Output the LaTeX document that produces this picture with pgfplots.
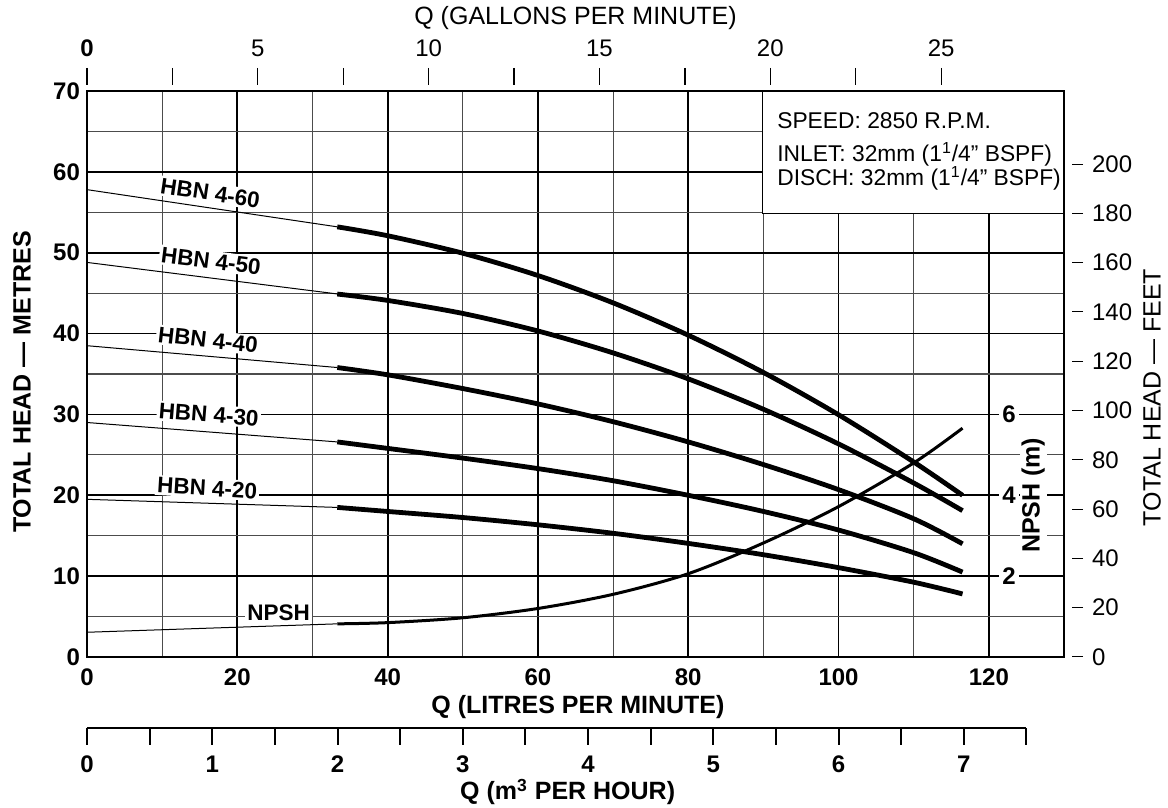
\documentclass[border=0pt]{standalone}
\usepackage{fontspec}
\setmainfont{Liberation Sans}
\setsansfont{Liberation Sans}
\usepackage{pgfplots}
\pgfplotsset{compat=1.18}

\newcommand\fA{\fontsize{11.25}{13}\selectfont}
\newcommand\fB{\fontsize{12}{14}\selectfont}
\newcommand\fC{\fontsize{11.4}{13}\selectfont}
\newcommand\fT{\fontsize{12.5}{14}\selectfont}

\pgfplotsset{
  thinseg/.style={black, line width=0.5pt, no marks},
  pump/.style={black, line width=2.4pt, no marks, smooth},
}
\tikzset{
  lbl/.style={font=\fA\bfseries, fill=white, inner sep=1pt},
  npsh/.style={font=\fB\bfseries, fill=white, inner sep=1.5pt},
}

\begin{document}
\begin{tikzpicture}
\useasboundingbox (-43.5pt,-75.5pt) rectangle (540.5pt,328.5pt);

% main chart: head in metres against litres per minute
\begin{axis}[
  at={(0,0)}, anchor=south west, scale only axis,
  width=488.5pt, height=283pt,
  xmin=0, xmax=130, ymin=0, ymax=70,
  xtick={0,20,...,120}, minor xtick={10,30,...,130},
  ytick={0,10,...,70}, minor ytick={5,15,...,65},
  major tick length=0pt, minor tick length=0pt,
  grid=both,
  major grid style={black, line width=0.9pt},
  minor grid style={black!70, line width=0.55pt},
  axis line style={black, line width=1.4pt},
  tick label style={font=\fB\bfseries},
  /pgf/number format/assume math mode=true,
  xticklabel style={yshift=-2.5pt},
  clip=false,
]
% thin extrapolated parts
\addplot[thinseg] coordinates {(0,57.8) (33.3,53.2)};
\addplot[thinseg] coordinates {(0,48.8) (33.3,44.9)};
\addplot[thinseg] coordinates {(0,38.5) (33.3,35.8)};
\addplot[thinseg] coordinates {(0,29.0) (33.3,26.6)};
\addplot[thinseg] coordinates {(0,19.5) (33.3,18.5)};
\addplot[thinseg] coordinates {(0,3.06) (33.3,4.1)};

% HBN 4-60
\addplot[pump] coordinates {
  (33.3,53.20) (40,52.10) (50,49.94) (60,47.18) (70,43.80) (80,39.80)
  (90,35.19) (100,29.96) (110,24.12) (116.5,20.00)};
% HBN 4-50
\addplot[pump] coordinates {
  (33.3,44.89) (40,44.10) (50,42.49) (60,40.32) (70,37.61) (80,34.40)
  (90,30.64) (100,26.35) (110,21.52) (116.5,18.10)};
% HBN 4-40
\addplot[pump] coordinates {
  (33.3,35.8) (40,34.9) (50,33.2) (60,31.3) (70,29.1) (80,26.6)
  (90,23.8) (100,20.7) (110,17.1) (116.5,14.0)};
% HBN 4-30
\addplot[pump] coordinates {
  (33.3,26.6) (40,25.8) (50,24.6) (60,23.3) (70,21.8) (80,20.0)
  (90,18.0) (100,15.7) (110,12.9) (116.5,10.5)};
% HBN 4-20
\addplot[pump] coordinates {
  (33.3,18.5) (40,18.0) (50,17.25) (60,16.35) (70,15.3) (80,14.05)
  (90,12.65) (100,11.05) (110,9.25) (116.5,7.8)};
% NPSH
\addplot[black, line width=1.5pt, no marks, smooth] coordinates {
  (33.3,4.1) (40,4.25) (50,4.85) (60,6.0) (70,7.75) (80,10.3)
  (90,14.1) (100,18.6) (110,24.0) (116.5,28.3)};

% curve names
\node[lbl, rotate=-8.5] at (axis cs:16.4,57.4) {HBN 4-60};
\node[lbl, rotate=-7.2] at (axis cs:16.5,49.0) {HBN 4-50};
\node[lbl, rotate=-6.5] at (axis cs:16.1,39.2) {HBN 4-40};
\node[lbl, rotate=-4.5] at (axis cs:16.2,30.0) {HBN 4-30};
\node[lbl, rotate=-3.5] at (axis cs:16.0,20.9) {HBN 4-20};
\node[lbl] at (axis cs:25.5,5.5) {NPSH};

% NPSH scale
\node[npsh] at (axis cs:122.7,10) {2};
\node[npsh] at (axis cs:122.7,20) {4};
\node[npsh] at (axis cs:122.7,30) {6};
\node[font=\fT\bfseries, fill=white, inner sep=1pt, rotate=90] at (axis cs:125.9,20) {NPSH (m)};

% data box
\node[draw, line width=0.7pt, fill=white, anchor=north east,
      minimum width=150.5pt, minimum height=61pt, inner sep=0pt]
      at (rel axis cs:1,1) {};
\node[font=\fC, anchor=base west, inner sep=0pt] at (axis cs:91.8,65.42) {SPEED: 2850 R.P.M.};
\node[font=\fC, anchor=base west, inner sep=0pt] at (axis cs:91.8,61.28) {INLET: 32mm (1\textsuperscript{1}/4” BSPF)};
\node[font=\fC, anchor=base west, inner sep=0pt] at (axis cs:91.8,58.37) {DISCH: 32mm (1\textsuperscript{1}/4” BSPF)};

% axis titles
\node[xshift=-32.5pt, font=\fT\bfseries, rotate=90] at (rel axis cs:0,0.486) {TOTAL HEAD — METRES};
\node[xshift=44pt, font=\fT, rotate=90] at (rel axis cs:1,0.4585) {TOTAL HEAD — FEET};
\node[yshift=-25pt, font=\fT\bfseries] at (rel axis cs:0.5025,0) {Q (LITRES PER MINUTE)};
\node[yshift=-67.5pt, font=\fT\bfseries] at (rel axis cs:0.492,0) {Q (m\textsuperscript{3} PER HOUR)};
\node[yshift=36.5pt, font=\fT] at (rel axis cs:0.5,1) {Q (GALLONS PER MINUTE)};
\end{axis}

% feet scale on the right
\begin{axis}[
  at={(4pt,0)}, anchor=south west, scale only axis,
  width=488.5pt, height=283pt,
  xmin=0, xmax=130, ymin=0, ymax=229.659,
  hide x axis, axis y line*=right,
  y axis line style={draw=none},
  ytick={0,20,...,200},
  tick align=outside, major tick length=5.5pt,
  ytick style={black, line width=0.5pt},
  yticklabel style={font=\fB, xshift=1pt},
  /pgf/number format/assume math mode=true,
]
\end{axis}

% gallons per minute on top
\begin{axis}[
  at={(0,286pt)}, anchor=north west, scale only axis,
  width=488.5pt, height=10pt,
  xmin=0, xmax=28.596, ymin=0, ymax=1,
  hide y axis, axis x line*=top,
  x axis line style={draw=none},
  xtick={0,5,...,25}, xticklabels={\textbf{0},5,10,15,20,25},
  minor xtick={2.5,7.5,...,22.5},
  tick align=outside, major tick length=8.5pt, minor tick length=8.5pt,
  xtick style={black, line width=0.6pt},
  minor x tick style={black, line width=0.6pt},
  xticklabel style={font=\fB, yshift=2pt},
]
\end{axis}

% cubic metres per hour below
\begin{axis}[
  at={(0,-35.5pt)}, anchor=south west, scale only axis,
  width=469.7pt, height=10pt,
  xmin=0, xmax=7.5, ymin=0, ymax=1,
  hide y axis, axis x line*=bottom,
  x axis line style={black, line width=1.3pt, -},
  xtick={0,...,7}, minor xtick={0.5,1.5,...,7.5},
  tick align=outside, major tick length=8.5pt, minor tick length=8.5pt,
  xtick style={black, line width=1pt},
  xticklabel style={font=\fB\bfseries, yshift=-2pt},
  /pgf/number format/assume math mode=true,
]
\end{axis}
\end{tikzpicture}
\end{document}
